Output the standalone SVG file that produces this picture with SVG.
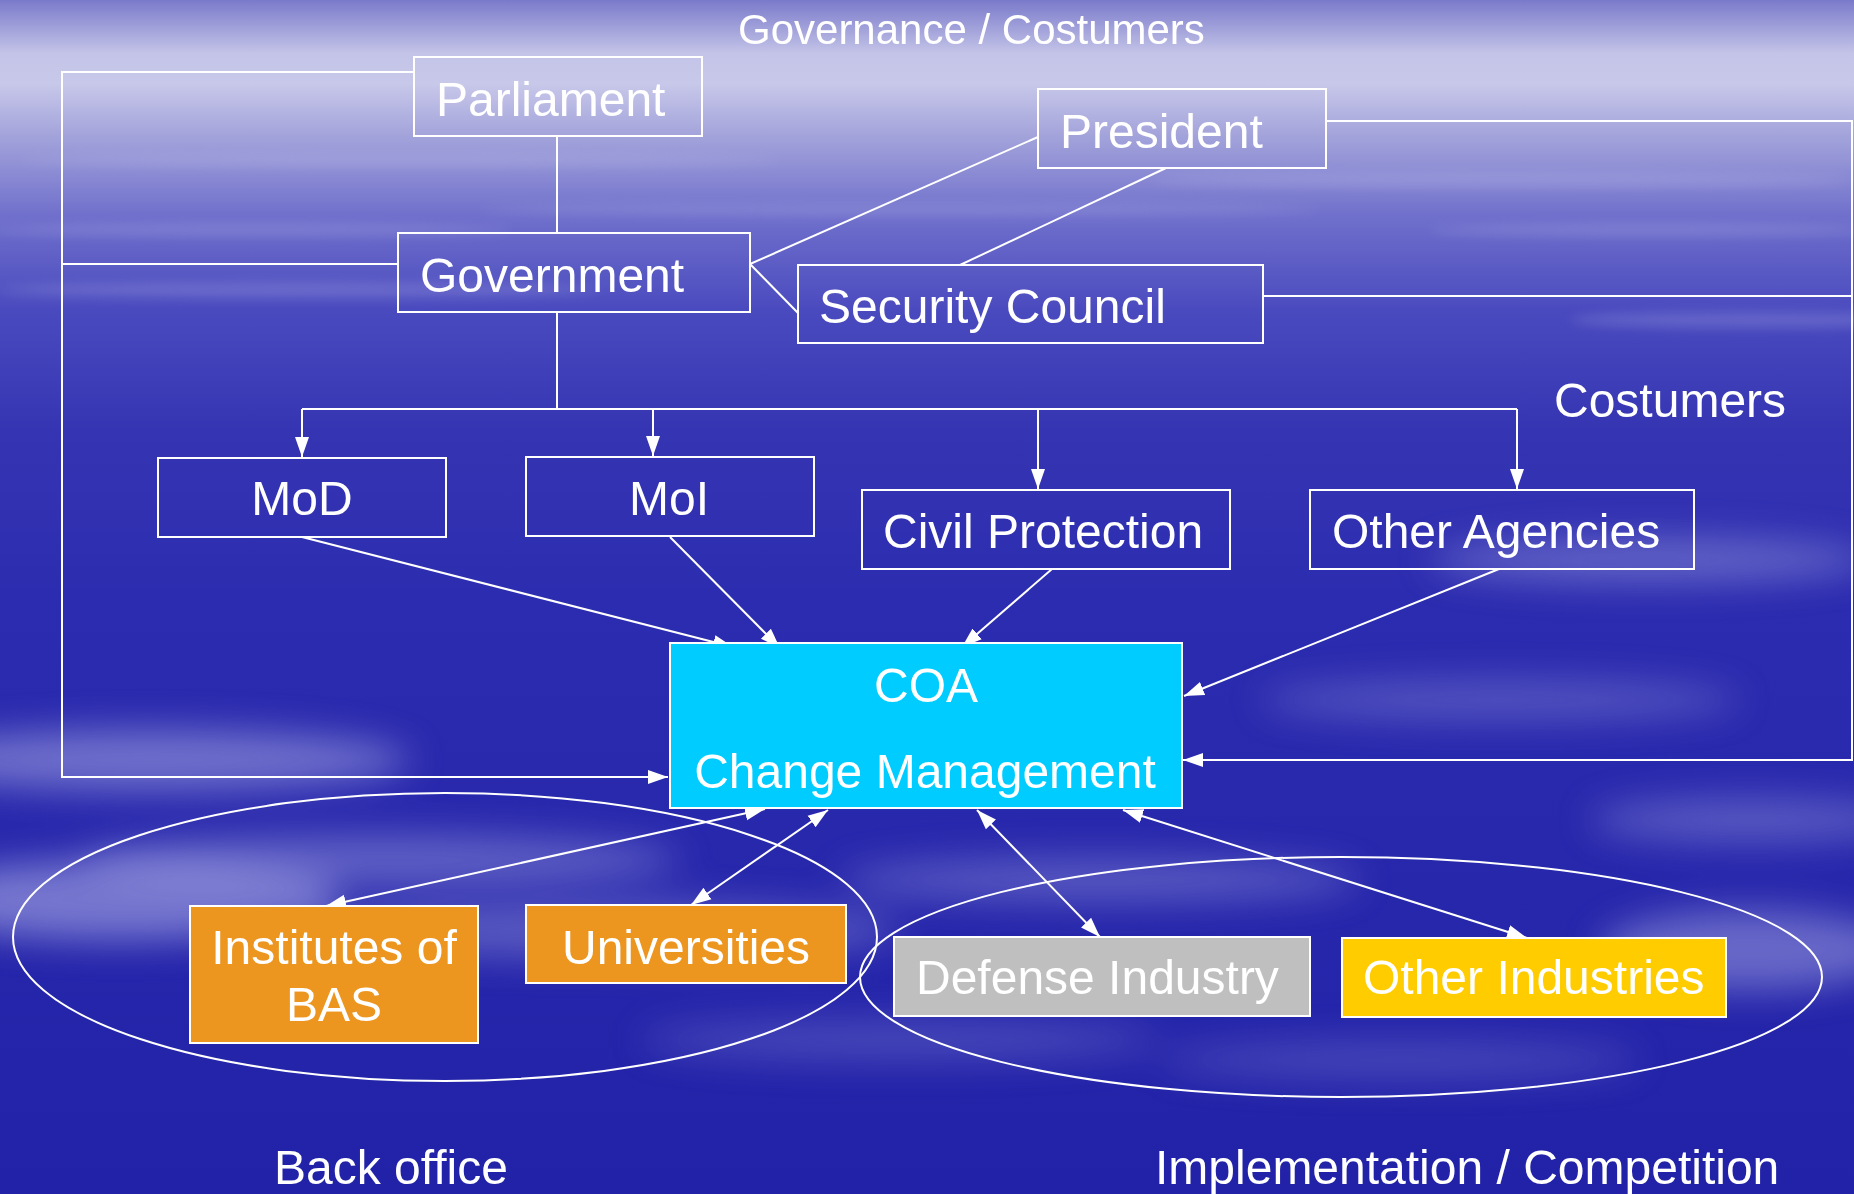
<svg xmlns="http://www.w3.org/2000/svg" width="1854" height="1194" viewBox="0 0 1854 1194">
<defs>
<linearGradient id="bg" x1="0" y1="0" x2="0" y2="1">
<stop offset="0" stop-color="#7a7acb"/>
<stop offset="0.045" stop-color="#c4c4e8"/>
<stop offset="0.07" stop-color="#c8c8ea"/>
<stop offset="0.11" stop-color="#a6a6dc"/>
<stop offset="0.18" stop-color="#7070cc"/>
<stop offset="0.26" stop-color="#4a4abf"/>
<stop offset="0.36" stop-color="#3535b3"/>
<stop offset="0.5" stop-color="#2c2cb0"/>
<stop offset="0.75" stop-color="#2727ac"/>
<stop offset="1" stop-color="#2222a8"/>
</linearGradient>
<filter id="blur" x="-50%" y="-50%" width="200%" height="200%"><feGaussianBlur stdDeviation="18"/></filter>
<filter id="blur2" x="-50%" y="-50%" width="200%" height="200%"><feGaussianBlur stdDeviation="6"/></filter>
<marker id="ah" markerUnits="userSpaceOnUse" markerWidth="22" markerHeight="16" refX="20" refY="8" orient="auto-start-reverse">
<path d="M0,1 L20,8 L0,15 z" fill="#fff"/>
</marker>
<style>
.box{fill:none;stroke:#fff;stroke-width:2}
.t{font-family:"Liberation Sans",Arial,sans-serif;font-size:48px;fill:#fff}
.c{stroke:#fff;stroke-width:2;fill:none}
.ca{stroke:#fff;stroke-width:2;fill:none;marker-end:url(#ah)}
.cb{stroke:#fff;stroke-width:2;fill:none;marker-start:url(#ah);marker-end:url(#ah)}
.ell{fill:none;stroke:#fff;stroke-width:2}
</style>
</defs>
<g id="background">
<rect width="1854" height="1194" fill="url(#bg)"/>
<g filter="url(#blur2)" fill="#c8c8f0" opacity="0.22">
<ellipse cx="400" cy="160" rx="380" ry="6"/>
<ellipse cx="1500" cy="180" rx="350" ry="7"/>
<ellipse cx="900" cy="210" rx="420" ry="5"/>
<ellipse cx="250" cy="230" rx="260" ry="6"/>
<ellipse cx="1650" cy="230" rx="220" ry="6"/>
<ellipse cx="300" cy="290" rx="300" ry="7"/>
<ellipse cx="1750" cy="320" rx="180" ry="8"/>
</g>
<g filter="url(#blur)" fill="#b8b8ec">
<ellipse cx="150" cy="760" rx="260" ry="30" opacity="0.5"/>
<ellipse cx="120" cy="900" rx="220" ry="40" opacity="0.55"/>
<ellipse cx="380" cy="860" rx="300" ry="25" opacity="0.4"/>
<ellipse cx="600" cy="930" rx="300" ry="28" opacity="0.35"/>
<ellipse cx="1100" cy="880" rx="260" ry="22" opacity="0.35"/>
<ellipse cx="1650" cy="560" rx="220" ry="22" opacity="0.4"/>
<ellipse cx="1500" cy="700" rx="240" ry="20" opacity="0.3"/>
<ellipse cx="1750" cy="950" rx="150" ry="40" opacity="0.45"/>
<ellipse cx="1750" cy="820" rx="160" ry="22" opacity="0.35"/>
<ellipse cx="900" cy="1040" rx="260" ry="20" opacity="0.25"/>
<ellipse cx="1400" cy="1060" rx="240" ry="18" opacity="0.25"/>
</g>
</g>
<g id="labels">
<text class="t" x="738" y="44" style="font-size:42px">Governance / Costumers</text>
<text class="t" x="1554" y="417">Costumers</text>
<text class="t" x="274" y="1184">Back office</text>
<text class="t" x="1155" y="1184">Implementation / Competition</text>
</g>
<g id="groups">
<ellipse class="ell" cx="445" cy="937" rx="432" ry="144"/>
<ellipse class="ell" cx="1341" cy="977" rx="481" ry="120"/>
</g>
<g id="connectors">
<polyline class="ca" points="414,72 62,72 62,777 668,777"/>
<line class="c" x1="397" y1="264" x2="62" y2="264"/>
<line class="c" x1="557" y1="136" x2="557" y2="233"/>
<line class="c" x1="750" y1="264" x2="1038" y2="137"/>
<line class="c" x1="750" y1="264" x2="798" y2="313"/>
<line class="c" x1="1166" y1="168" x2="960" y2="265"/>
<polyline class="ca" points="1326,121 1852,121 1852,760 1183,760"/>
<line class="c" x1="1263" y1="296" x2="1852" y2="296"/>
<line class="c" x1="557" y1="312" x2="557" y2="409"/>
<line class="c" x1="302" y1="409" x2="1517" y2="409"/>
<line class="ca" x1="302" y1="409" x2="302" y2="457"/>
<line class="ca" x1="653" y1="409" x2="653" y2="456"/>
<line class="ca" x1="1038" y1="409" x2="1038" y2="489"/>
<line class="ca" x1="1517" y1="409" x2="1517" y2="489"/>
<line class="ca" x1="302" y1="537" x2="733" y2="647"/>
<line class="ca" x1="670" y1="537" x2="780" y2="648"/>
<line class="ca" x1="1052" y1="569" x2="962" y2="647"/>
<line class="ca" x1="1499" y1="569" x2="1184" y2="696"/>
<line class="cb" x1="326" y1="906" x2="765" y2="809"/>
<line class="cb" x1="691" y1="905" x2="828" y2="810"/>
<line class="cb" x1="1100" y1="937" x2="977" y2="810"/>
<line class="cb" x1="1527" y1="938" x2="1123" y2="810"/>
</g>
<g id="parliament">
<rect class="box" x="414" y="57" width="288" height="79"/>
<text class="t" x="436" y="116">Parliament</text>
</g>
<g id="president">
<rect class="box" x="1038" y="89" width="288" height="79"/>
<text class="t" x="1060" y="148">President</text>
</g>
<g id="government">
<rect class="box" x="398" y="233" width="352" height="79"/>
<text class="t" x="420" y="292">Government</text>
</g>
<g id="security-council">
<rect class="box" x="798" y="265" width="465" height="78"/>
<text class="t" x="819" y="323">Security Council</text>
</g>
<g id="mod">
<rect class="box" x="158" y="458" width="288" height="79"/>
<text class="t" x="302" y="515" text-anchor="middle">MoD</text>
</g>
<g id="moi">
<rect class="box" x="526" y="457" width="288" height="79"/>
<text class="t" x="669" y="515" text-anchor="middle">MoI</text>
</g>
<g id="civil-protection">
<rect class="box" x="862" y="490" width="368" height="79"/>
<text class="t" x="883" y="548">Civil Protection</text>
</g>
<g id="other-agencies">
<rect class="box" x="1310" y="490" width="384" height="79"/>
<text class="t" x="1332" y="548">Other Agencies</text>
</g>
<g id="coa">
<rect x="670" y="643" width="512" height="165" fill="#00ccff" stroke="#fff" stroke-width="2"/>
<text class="t" x="926" y="702" text-anchor="middle">COA</text>
<text class="t" x="925" y="788" text-anchor="middle">Change Management</text>
</g>
<g id="institutes-of-bas">
<rect x="190" y="906" width="288" height="137" fill="#ec961f" stroke="#fff" stroke-width="2"/>
<text class="t" x="334" y="964" text-anchor="middle">Institutes of</text>
<text class="t" x="334" y="1021" text-anchor="middle">BAS</text>
</g>
<g id="universities">
<rect x="526" y="905" width="320" height="78" fill="#ec961f" stroke="#fff" stroke-width="2"/>
<text class="t" x="686" y="964" text-anchor="middle">Universities</text>
</g>
<g id="defense-industry">
<rect x="894" y="937" width="416" height="79" fill="#bfbfbf" stroke="#fff" stroke-width="2"/>
<text class="t" x="916" y="994">Defense Industry</text>
</g>
<g id="other-industries">
<rect x="1342" y="938" width="384" height="79" fill="#ffcc00" stroke="#fff" stroke-width="2"/>
<text class="t" x="1363" y="994">Other Industries</text>
</g>
</svg>
